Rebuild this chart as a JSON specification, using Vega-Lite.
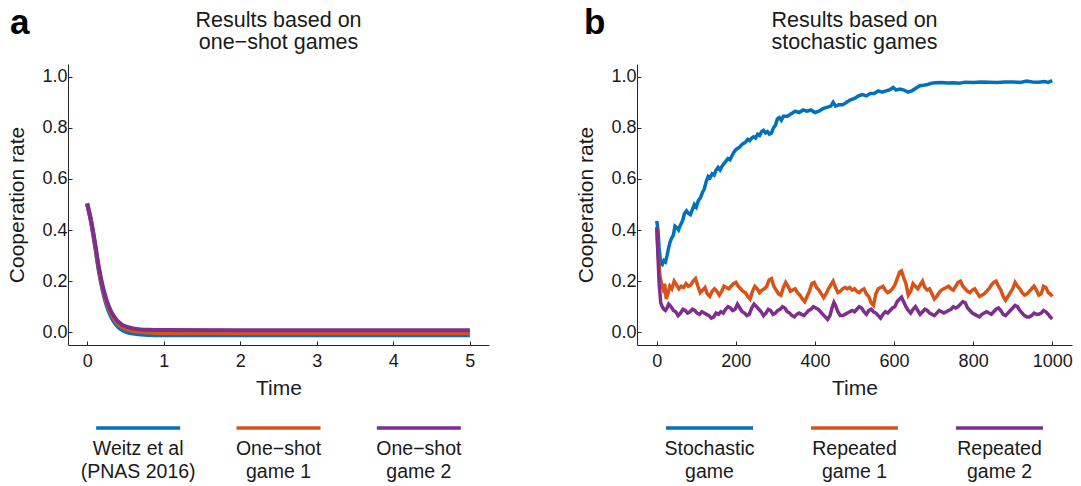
{
  "$schema": "https://vega.github.io/schema/vega-lite/v6.json",
  "background": "white",
  "padding": {"left": 6, "top": 5, "right": 4, "bottom": 0},
  "config": {
    "font": "Liberation Sans",
    "view": {"stroke": null},
    "axis": {
      "grid": false,
      "domainColor": "#262626",
      "domainWidth": 1,
      "tickColor": "#262626",
      "tickSize": -4,
      "labelFontSize": 18,
      "labelColor": "#1a1a1a",
      "titleFontSize": 21,
      "titleFontWeight": "normal",
      "titleColor": "#1a1a1a"
    },
    "axisX": {"labelPadding": 11, "titlePadding": 7},
    "axisY": {"labelPadding": 5, "titlePadding": 14},
    "title": {"fontWeight": "normal", "color": "#1a1a1a"}
  },
  "datasets": {
    "oneshot": [
      {"s": "A1", "t": 0, "v": 0.5}, {"s": "A1", "t": 0.05, "v": 0.432}, {"s": "A1", "t": 0.1, "v": 0.343}, {"s": "A1", "t": 0.15, "v": 0.244}, {"s": "A1", "t": 0.2, "v": 0.166}, {"s": "A1", "t": 0.25, "v": 0.109}, {"s": "A1", "t": 0.3, "v": 0.069}, {"s": "A1", "t": 0.35, "v": 0.041}, {"s": "A1", "t": 0.4, "v": 0.022}, {"s": "A1", "t": 0.45, "v": 0.01}, {"s": "A1", "t": 0.5, "v": 0.002}, {"s": "A1", "t": 0.6, "v": -0.005}, {"s": "A1", "t": 0.7, "v": -0.009}, {"s": "A1", "t": 0.8, "v": -0.011}, {"s": "A1", "t": 1, "v": -0.012}, {"s": "A1", "t": 2, "v": -0.012}, {"s": "A1", "t": 3, "v": -0.012}, {"s": "A1", "t": 4, "v": -0.012}, {"s": "A1", "t": 5, "v": -0.012},
      {"s": "A2", "t": 0, "v": 0.503}, {"s": "A2", "t": 0.05, "v": 0.437}, {"s": "A2", "t": 0.1, "v": 0.35}, {"s": "A2", "t": 0.15, "v": 0.253}, {"s": "A2", "t": 0.2, "v": 0.176}, {"s": "A2", "t": 0.25, "v": 0.12}, {"s": "A2", "t": 0.3, "v": 0.08}, {"s": "A2", "t": 0.35, "v": 0.052}, {"s": "A2", "t": 0.4, "v": 0.033}, {"s": "A2", "t": 0.45, "v": 0.021}, {"s": "A2", "t": 0.5, "v": 0.013}, {"s": "A2", "t": 0.6, "v": 0.005}, {"s": "A2", "t": 0.7, "v": 0.001}, {"s": "A2", "t": 0.8, "v": -0.001}, {"s": "A2", "t": 1, "v": -0.003}, {"s": "A2", "t": 2, "v": -0.003}, {"s": "A2", "t": 3, "v": -0.003}, {"s": "A2", "t": 4, "v": -0.003}, {"s": "A2", "t": 5, "v": -0.003},
      {"s": "A3", "t": 0, "v": 0.505}, {"s": "A3", "t": 0.05, "v": 0.44}, {"s": "A3", "t": 0.1, "v": 0.355}, {"s": "A3", "t": 0.15, "v": 0.26}, {"s": "A3", "t": 0.2, "v": 0.185}, {"s": "A3", "t": 0.25, "v": 0.13}, {"s": "A3", "t": 0.3, "v": 0.09}, {"s": "A3", "t": 0.35, "v": 0.062}, {"s": "A3", "t": 0.4, "v": 0.043}, {"s": "A3", "t": 0.45, "v": 0.031}, {"s": "A3", "t": 0.5, "v": 0.023}, {"s": "A3", "t": 0.6, "v": 0.015}, {"s": "A3", "t": 0.7, "v": 0.011}, {"s": "A3", "t": 0.8, "v": 0.0095}, {"s": "A3", "t": 1, "v": 0.0085}, {"s": "A3", "t": 2, "v": 0.008}, {"s": "A3", "t": 3, "v": 0.008}, {"s": "A3", "t": 4, "v": 0.008}, {"s": "A3", "t": 5, "v": 0.008}
    ],
    "stoch": [
      {"s": "B1", "t": 0, "v": 0.436}, {"s": "B1", "t": 3, "v": 0.4}, {"s": "B1", "t": 6, "v": 0.33}, {"s": "B1", "t": 10, "v": 0.27}, {"s": "B1", "t": 14, "v": 0.265}, {"s": "B1", "t": 18, "v": 0.28}, {"s": "B1", "t": 22, "v": 0.275}, {"s": "B1", "t": 26, "v": 0.3}, {"s": "B1", "t": 30, "v": 0.33}, {"s": "B1", "t": 34, "v": 0.355}, {"s": "B1", "t": 38, "v": 0.37}, {"s": "B1", "t": 42, "v": 0.38}, {"s": "B1", "t": 46, "v": 0.415}, {"s": "B1", "t": 50, "v": 0.41}, {"s": "B1", "t": 55, "v": 0.4}, {"s": "B1", "t": 60, "v": 0.42}, {"s": "B1", "t": 65, "v": 0.435}, {"s": "B1", "t": 70, "v": 0.465}, {"s": "B1", "t": 75, "v": 0.475}, {"s": "B1", "t": 80, "v": 0.465}, {"s": "B1", "t": 85, "v": 0.46}, {"s": "B1", "t": 90, "v": 0.48}, {"s": "B1", "t": 95, "v": 0.5}, {"s": "B1", "t": 100, "v": 0.49}, {"s": "B1", "t": 105, "v": 0.515}, {"s": "B1", "t": 110, "v": 0.525}, {"s": "B1", "t": 115, "v": 0.545}, {"s": "B1", "t": 120, "v": 0.56}, {"s": "B1", "t": 125, "v": 0.59}, {"s": "B1", "t": 130, "v": 0.61}, {"s": "B1", "t": 135, "v": 0.605}, {"s": "B1", "t": 140, "v": 0.62}, {"s": "B1", "t": 145, "v": 0.615}, {"s": "B1", "t": 150, "v": 0.635}, {"s": "B1", "t": 155, "v": 0.645}, {"s": "B1", "t": 160, "v": 0.635}, {"s": "B1", "t": 165, "v": 0.65}, {"s": "B1", "t": 170, "v": 0.66}, {"s": "B1", "t": 175, "v": 0.67}, {"s": "B1", "t": 180, "v": 0.68}, {"s": "B1", "t": 185, "v": 0.675}, {"s": "B1", "t": 190, "v": 0.69}, {"s": "B1", "t": 195, "v": 0.705}, {"s": "B1", "t": 200, "v": 0.715}, {"s": "B1", "t": 205, "v": 0.72}, {"s": "B1", "t": 210, "v": 0.725}, {"s": "B1", "t": 215, "v": 0.735}, {"s": "B1", "t": 220, "v": 0.74}, {"s": "B1", "t": 225, "v": 0.745}, {"s": "B1", "t": 230, "v": 0.755}, {"s": "B1", "t": 235, "v": 0.75}, {"s": "B1", "t": 240, "v": 0.76}, {"s": "B1", "t": 245, "v": 0.765}, {"s": "B1", "t": 250, "v": 0.76}, {"s": "B1", "t": 255, "v": 0.775}, {"s": "B1", "t": 260, "v": 0.77}, {"s": "B1", "t": 265, "v": 0.785}, {"s": "B1", "t": 270, "v": 0.79}, {"s": "B1", "t": 275, "v": 0.78}, {"s": "B1", "t": 280, "v": 0.785}, {"s": "B1", "t": 285, "v": 0.775}, {"s": "B1", "t": 290, "v": 0.78}, {"s": "B1", "t": 295, "v": 0.8}, {"s": "B1", "t": 300, "v": 0.81}, {"s": "B1", "t": 305, "v": 0.835}, {"s": "B1", "t": 310, "v": 0.84}, {"s": "B1", "t": 315, "v": 0.83}, {"s": "B1", "t": 320, "v": 0.845}, {"s": "B1", "t": 330, "v": 0.845}, {"s": "B1", "t": 340, "v": 0.855}, {"s": "B1", "t": 350, "v": 0.865}, {"s": "B1", "t": 360, "v": 0.86}, {"s": "B1", "t": 370, "v": 0.87}, {"s": "B1", "t": 380, "v": 0.865}, {"s": "B1", "t": 390, "v": 0.87}, {"s": "B1", "t": 400, "v": 0.86}, {"s": "B1", "t": 410, "v": 0.865}, {"s": "B1", "t": 420, "v": 0.875}, {"s": "B1", "t": 430, "v": 0.88}, {"s": "B1", "t": 440, "v": 0.885}, {"s": "B1", "t": 446, "v": 0.9}, {"s": "B1", "t": 452, "v": 0.885}, {"s": "B1", "t": 460, "v": 0.89}, {"s": "B1", "t": 470, "v": 0.89}, {"s": "B1", "t": 480, "v": 0.9}, {"s": "B1", "t": 490, "v": 0.91}, {"s": "B1", "t": 500, "v": 0.915}, {"s": "B1", "t": 510, "v": 0.925}, {"s": "B1", "t": 520, "v": 0.93}, {"s": "B1", "t": 530, "v": 0.925}, {"s": "B1", "t": 540, "v": 0.935}, {"s": "B1", "t": 550, "v": 0.935}, {"s": "B1", "t": 560, "v": 0.945}, {"s": "B1", "t": 570, "v": 0.94}, {"s": "B1", "t": 580, "v": 0.945}, {"s": "B1", "t": 590, "v": 0.95}, {"s": "B1", "t": 598, "v": 0.958}, {"s": "B1", "t": 605, "v": 0.948}, {"s": "B1", "t": 615, "v": 0.952}, {"s": "B1", "t": 625, "v": 0.948}, {"s": "B1", "t": 635, "v": 0.94}, {"s": "B1", "t": 645, "v": 0.945}, {"s": "B1", "t": 655, "v": 0.955}, {"s": "B1", "t": 665, "v": 0.965}, {"s": "B1", "t": 675, "v": 0.967}, {"s": "B1", "t": 685, "v": 0.97}, {"s": "B1", "t": 695, "v": 0.975}, {"s": "B1", "t": 705, "v": 0.977}, {"s": "B1", "t": 720, "v": 0.978}, {"s": "B1", "t": 735, "v": 0.976}, {"s": "B1", "t": 750, "v": 0.977}, {"s": "B1", "t": 765, "v": 0.975}, {"s": "B1", "t": 780, "v": 0.979}, {"s": "B1", "t": 800, "v": 0.978}, {"s": "B1", "t": 820, "v": 0.98}, {"s": "B1", "t": 840, "v": 0.979}, {"s": "B1", "t": 860, "v": 0.978}, {"s": "B1", "t": 880, "v": 0.98}, {"s": "B1", "t": 900, "v": 0.98}, {"s": "B1", "t": 920, "v": 0.978}, {"s": "B1", "t": 935, "v": 0.983}, {"s": "B1", "t": 950, "v": 0.98}, {"s": "B1", "t": 965, "v": 0.979}, {"s": "B1", "t": 980, "v": 0.981}, {"s": "B1", "t": 990, "v": 0.978}, {"s": "B1", "t": 1000, "v": 0.985},
      {"s": "B2", "t": 0, "v": 0.41}, {"s": "B2", "t": 4, "v": 0.3}, {"s": "B2", "t": 8, "v": 0.22}, {"s": "B2", "t": 12, "v": 0.19}, {"s": "B2", "t": 16, "v": 0.17}, {"s": "B2", "t": 20, "v": 0.19}, {"s": "B2", "t": 24, "v": 0.13}, {"s": "B2", "t": 28, "v": 0.15}, {"s": "B2", "t": 33, "v": 0.18}, {"s": "B2", "t": 38, "v": 0.17}, {"s": "B2", "t": 44, "v": 0.2}, {"s": "B2", "t": 50, "v": 0.185}, {"s": "B2", "t": 56, "v": 0.17}, {"s": "B2", "t": 62, "v": 0.18}, {"s": "B2", "t": 68, "v": 0.175}, {"s": "B2", "t": 74, "v": 0.19}, {"s": "B2", "t": 80, "v": 0.18}, {"s": "B2", "t": 86, "v": 0.185}, {"s": "B2", "t": 92, "v": 0.2}, {"s": "B2", "t": 98, "v": 0.21}, {"s": "B2", "t": 104, "v": 0.18}, {"s": "B2", "t": 110, "v": 0.155}, {"s": "B2", "t": 116, "v": 0.165}, {"s": "B2", "t": 122, "v": 0.175}, {"s": "B2", "t": 128, "v": 0.15}, {"s": "B2", "t": 134, "v": 0.14}, {"s": "B2", "t": 140, "v": 0.16}, {"s": "B2", "t": 146, "v": 0.17}, {"s": "B2", "t": 152, "v": 0.16}, {"s": "B2", "t": 158, "v": 0.145}, {"s": "B2", "t": 164, "v": 0.16}, {"s": "B2", "t": 170, "v": 0.18}, {"s": "B2", "t": 176, "v": 0.175}, {"s": "B2", "t": 182, "v": 0.17}, {"s": "B2", "t": 188, "v": 0.18}, {"s": "B2", "t": 194, "v": 0.19}, {"s": "B2", "t": 200, "v": 0.195}, {"s": "B2", "t": 206, "v": 0.18}, {"s": "B2", "t": 212, "v": 0.17}, {"s": "B2", "t": 218, "v": 0.16}, {"s": "B2", "t": 224, "v": 0.155}, {"s": "B2", "t": 230, "v": 0.14}, {"s": "B2", "t": 236, "v": 0.13}, {"s": "B2", "t": 242, "v": 0.16}, {"s": "B2", "t": 248, "v": 0.18}, {"s": "B2", "t": 254, "v": 0.17}, {"s": "B2", "t": 260, "v": 0.155}, {"s": "B2", "t": 266, "v": 0.165}, {"s": "B2", "t": 272, "v": 0.17}, {"s": "B2", "t": 278, "v": 0.18}, {"s": "B2", "t": 284, "v": 0.205}, {"s": "B2", "t": 290, "v": 0.21}, {"s": "B2", "t": 296, "v": 0.18}, {"s": "B2", "t": 302, "v": 0.165}, {"s": "B2", "t": 308, "v": 0.15}, {"s": "B2", "t": 314, "v": 0.145}, {"s": "B2", "t": 320, "v": 0.175}, {"s": "B2", "t": 326, "v": 0.195}, {"s": "B2", "t": 332, "v": 0.18}, {"s": "B2", "t": 338, "v": 0.16}, {"s": "B2", "t": 344, "v": 0.165}, {"s": "B2", "t": 350, "v": 0.17}, {"s": "B2", "t": 356, "v": 0.155}, {"s": "B2", "t": 362, "v": 0.145}, {"s": "B2", "t": 368, "v": 0.13}, {"s": "B2", "t": 374, "v": 0.12}, {"s": "B2", "t": 380, "v": 0.14}, {"s": "B2", "t": 386, "v": 0.16}, {"s": "B2", "t": 392, "v": 0.19}, {"s": "B2", "t": 398, "v": 0.195}, {"s": "B2", "t": 404, "v": 0.175}, {"s": "B2", "t": 410, "v": 0.165}, {"s": "B2", "t": 416, "v": 0.15}, {"s": "B2", "t": 422, "v": 0.135}, {"s": "B2", "t": 428, "v": 0.15}, {"s": "B2", "t": 434, "v": 0.17}, {"s": "B2", "t": 440, "v": 0.185}, {"s": "B2", "t": 446, "v": 0.2}, {"s": "B2", "t": 452, "v": 0.175}, {"s": "B2", "t": 458, "v": 0.155}, {"s": "B2", "t": 464, "v": 0.16}, {"s": "B2", "t": 470, "v": 0.17}, {"s": "B2", "t": 476, "v": 0.175}, {"s": "B2", "t": 482, "v": 0.17}, {"s": "B2", "t": 488, "v": 0.175}, {"s": "B2", "t": 494, "v": 0.165}, {"s": "B2", "t": 500, "v": 0.17}, {"s": "B2", "t": 506, "v": 0.16}, {"s": "B2", "t": 512, "v": 0.155}, {"s": "B2", "t": 518, "v": 0.165}, {"s": "B2", "t": 524, "v": 0.17}, {"s": "B2", "t": 530, "v": 0.15}, {"s": "B2", "t": 536, "v": 0.14}, {"s": "B2", "t": 542, "v": 0.115}, {"s": "B2", "t": 548, "v": 0.105}, {"s": "B2", "t": 554, "v": 0.15}, {"s": "B2", "t": 560, "v": 0.17}, {"s": "B2", "t": 566, "v": 0.175}, {"s": "B2", "t": 572, "v": 0.18}, {"s": "B2", "t": 578, "v": 0.165}, {"s": "B2", "t": 584, "v": 0.155}, {"s": "B2", "t": 590, "v": 0.16}, {"s": "B2", "t": 596, "v": 0.17}, {"s": "B2", "t": 602, "v": 0.185}, {"s": "B2", "t": 608, "v": 0.21}, {"s": "B2", "t": 614, "v": 0.235}, {"s": "B2", "t": 619, "v": 0.24}, {"s": "B2", "t": 624, "v": 0.215}, {"s": "B2", "t": 630, "v": 0.19}, {"s": "B2", "t": 636, "v": 0.145}, {"s": "B2", "t": 642, "v": 0.16}, {"s": "B2", "t": 648, "v": 0.19}, {"s": "B2", "t": 654, "v": 0.18}, {"s": "B2", "t": 660, "v": 0.17}, {"s": "B2", "t": 666, "v": 0.185}, {"s": "B2", "t": 672, "v": 0.2}, {"s": "B2", "t": 678, "v": 0.175}, {"s": "B2", "t": 684, "v": 0.165}, {"s": "B2", "t": 690, "v": 0.17}, {"s": "B2", "t": 696, "v": 0.15}, {"s": "B2", "t": 702, "v": 0.13}, {"s": "B2", "t": 708, "v": 0.14}, {"s": "B2", "t": 714, "v": 0.155}, {"s": "B2", "t": 720, "v": 0.165}, {"s": "B2", "t": 726, "v": 0.17}, {"s": "B2", "t": 732, "v": 0.175}, {"s": "B2", "t": 738, "v": 0.18}, {"s": "B2", "t": 744, "v": 0.17}, {"s": "B2", "t": 750, "v": 0.165}, {"s": "B2", "t": 756, "v": 0.18}, {"s": "B2", "t": 762, "v": 0.195}, {"s": "B2", "t": 768, "v": 0.2}, {"s": "B2", "t": 774, "v": 0.18}, {"s": "B2", "t": 780, "v": 0.17}, {"s": "B2", "t": 786, "v": 0.16}, {"s": "B2", "t": 792, "v": 0.155}, {"s": "B2", "t": 798, "v": 0.165}, {"s": "B2", "t": 804, "v": 0.17}, {"s": "B2", "t": 810, "v": 0.155}, {"s": "B2", "t": 816, "v": 0.14}, {"s": "B2", "t": 822, "v": 0.145}, {"s": "B2", "t": 828, "v": 0.15}, {"s": "B2", "t": 834, "v": 0.16}, {"s": "B2", "t": 840, "v": 0.17}, {"s": "B2", "t": 846, "v": 0.185}, {"s": "B2", "t": 852, "v": 0.195}, {"s": "B2", "t": 858, "v": 0.2}, {"s": "B2", "t": 864, "v": 0.18}, {"s": "B2", "t": 870, "v": 0.165}, {"s": "B2", "t": 876, "v": 0.14}, {"s": "B2", "t": 882, "v": 0.125}, {"s": "B2", "t": 888, "v": 0.14}, {"s": "B2", "t": 894, "v": 0.155}, {"s": "B2", "t": 900, "v": 0.17}, {"s": "B2", "t": 906, "v": 0.195}, {"s": "B2", "t": 912, "v": 0.18}, {"s": "B2", "t": 918, "v": 0.17}, {"s": "B2", "t": 924, "v": 0.155}, {"s": "B2", "t": 930, "v": 0.145}, {"s": "B2", "t": 936, "v": 0.15}, {"s": "B2", "t": 942, "v": 0.16}, {"s": "B2", "t": 948, "v": 0.17}, {"s": "B2", "t": 954, "v": 0.18}, {"s": "B2", "t": 960, "v": 0.165}, {"s": "B2", "t": 966, "v": 0.145}, {"s": "B2", "t": 972, "v": 0.15}, {"s": "B2", "t": 978, "v": 0.18}, {"s": "B2", "t": 984, "v": 0.175}, {"s": "B2", "t": 990, "v": 0.155}, {"s": "B2", "t": 995, "v": 0.15}, {"s": "B2", "t": 1000, "v": 0.14},
      {"s": "B3", "t": 0, "v": 0.41}, {"s": "B3", "t": 3, "v": 0.3}, {"s": "B3", "t": 6, "v": 0.19}, {"s": "B3", "t": 10, "v": 0.115}, {"s": "B3", "t": 14, "v": 0.1}, {"s": "B3", "t": 18, "v": 0.09}, {"s": "B3", "t": 22, "v": 0.085}, {"s": "B3", "t": 26, "v": 0.095}, {"s": "B3", "t": 30, "v": 0.11}, {"s": "B3", "t": 36, "v": 0.1}, {"s": "B3", "t": 42, "v": 0.085}, {"s": "B3", "t": 48, "v": 0.08}, {"s": "B3", "t": 54, "v": 0.065}, {"s": "B3", "t": 60, "v": 0.075}, {"s": "B3", "t": 66, "v": 0.09}, {"s": "B3", "t": 72, "v": 0.085}, {"s": "B3", "t": 78, "v": 0.075}, {"s": "B3", "t": 84, "v": 0.08}, {"s": "B3", "t": 90, "v": 0.09}, {"s": "B3", "t": 96, "v": 0.085}, {"s": "B3", "t": 102, "v": 0.075}, {"s": "B3", "t": 108, "v": 0.07}, {"s": "B3", "t": 114, "v": 0.08}, {"s": "B3", "t": 120, "v": 0.075}, {"s": "B3", "t": 126, "v": 0.07}, {"s": "B3", "t": 132, "v": 0.065}, {"s": "B3", "t": 138, "v": 0.055}, {"s": "B3", "t": 144, "v": 0.06}, {"s": "B3", "t": 150, "v": 0.075}, {"s": "B3", "t": 156, "v": 0.07}, {"s": "B3", "t": 162, "v": 0.08}, {"s": "B3", "t": 168, "v": 0.075}, {"s": "B3", "t": 174, "v": 0.09}, {"s": "B3", "t": 180, "v": 0.1}, {"s": "B3", "t": 186, "v": 0.095}, {"s": "B3", "t": 192, "v": 0.085}, {"s": "B3", "t": 198, "v": 0.09}, {"s": "B3", "t": 204, "v": 0.11}, {"s": "B3", "t": 210, "v": 0.095}, {"s": "B3", "t": 216, "v": 0.08}, {"s": "B3", "t": 222, "v": 0.075}, {"s": "B3", "t": 228, "v": 0.065}, {"s": "B3", "t": 234, "v": 0.07}, {"s": "B3", "t": 240, "v": 0.095}, {"s": "B3", "t": 246, "v": 0.11}, {"s": "B3", "t": 252, "v": 0.1}, {"s": "B3", "t": 258, "v": 0.09}, {"s": "B3", "t": 264, "v": 0.08}, {"s": "B3", "t": 270, "v": 0.065}, {"s": "B3", "t": 276, "v": 0.075}, {"s": "B3", "t": 282, "v": 0.09}, {"s": "B3", "t": 288, "v": 0.085}, {"s": "B3", "t": 294, "v": 0.07}, {"s": "B3", "t": 300, "v": 0.075}, {"s": "B3", "t": 306, "v": 0.085}, {"s": "B3", "t": 312, "v": 0.09}, {"s": "B3", "t": 318, "v": 0.1}, {"s": "B3", "t": 324, "v": 0.095}, {"s": "B3", "t": 330, "v": 0.08}, {"s": "B3", "t": 336, "v": 0.075}, {"s": "B3", "t": 342, "v": 0.065}, {"s": "B3", "t": 348, "v": 0.06}, {"s": "B3", "t": 354, "v": 0.07}, {"s": "B3", "t": 360, "v": 0.075}, {"s": "B3", "t": 366, "v": 0.07}, {"s": "B3", "t": 372, "v": 0.065}, {"s": "B3", "t": 378, "v": 0.075}, {"s": "B3", "t": 384, "v": 0.085}, {"s": "B3", "t": 390, "v": 0.09}, {"s": "B3", "t": 396, "v": 0.1}, {"s": "B3", "t": 402, "v": 0.095}, {"s": "B3", "t": 408, "v": 0.09}, {"s": "B3", "t": 414, "v": 0.08}, {"s": "B3", "t": 420, "v": 0.07}, {"s": "B3", "t": 426, "v": 0.06}, {"s": "B3", "t": 432, "v": 0.05}, {"s": "B3", "t": 438, "v": 0.065}, {"s": "B3", "t": 444, "v": 0.1}, {"s": "B3", "t": 448, "v": 0.117}, {"s": "B3", "t": 452, "v": 0.105}, {"s": "B3", "t": 458, "v": 0.08}, {"s": "B3", "t": 464, "v": 0.065}, {"s": "B3", "t": 470, "v": 0.065}, {"s": "B3", "t": 476, "v": 0.07}, {"s": "B3", "t": 482, "v": 0.075}, {"s": "B3", "t": 488, "v": 0.08}, {"s": "B3", "t": 494, "v": 0.085}, {"s": "B3", "t": 500, "v": 0.08}, {"s": "B3", "t": 506, "v": 0.09}, {"s": "B3", "t": 512, "v": 0.1}, {"s": "B3", "t": 518, "v": 0.095}, {"s": "B3", "t": 524, "v": 0.08}, {"s": "B3", "t": 530, "v": 0.07}, {"s": "B3", "t": 536, "v": 0.085}, {"s": "B3", "t": 542, "v": 0.09}, {"s": "B3", "t": 548, "v": 0.08}, {"s": "B3", "t": 554, "v": 0.075}, {"s": "B3", "t": 560, "v": 0.065}, {"s": "B3", "t": 566, "v": 0.055}, {"s": "B3", "t": 572, "v": 0.07}, {"s": "B3", "t": 578, "v": 0.08}, {"s": "B3", "t": 584, "v": 0.075}, {"s": "B3", "t": 590, "v": 0.085}, {"s": "B3", "t": 596, "v": 0.095}, {"s": "B3", "t": 602, "v": 0.1}, {"s": "B3", "t": 608, "v": 0.12}, {"s": "B3", "t": 614, "v": 0.13}, {"s": "B3", "t": 619, "v": 0.137}, {"s": "B3", "t": 624, "v": 0.12}, {"s": "B3", "t": 630, "v": 0.1}, {"s": "B3", "t": 636, "v": 0.085}, {"s": "B3", "t": 642, "v": 0.075}, {"s": "B3", "t": 648, "v": 0.09}, {"s": "B3", "t": 654, "v": 0.1}, {"s": "B3", "t": 660, "v": 0.085}, {"s": "B3", "t": 666, "v": 0.07}, {"s": "B3", "t": 672, "v": 0.08}, {"s": "B3", "t": 678, "v": 0.09}, {"s": "B3", "t": 684, "v": 0.085}, {"s": "B3", "t": 690, "v": 0.075}, {"s": "B3", "t": 696, "v": 0.07}, {"s": "B3", "t": 702, "v": 0.065}, {"s": "B3", "t": 708, "v": 0.075}, {"s": "B3", "t": 714, "v": 0.085}, {"s": "B3", "t": 720, "v": 0.08}, {"s": "B3", "t": 726, "v": 0.075}, {"s": "B3", "t": 732, "v": 0.08}, {"s": "B3", "t": 738, "v": 0.085}, {"s": "B3", "t": 744, "v": 0.09}, {"s": "B3", "t": 750, "v": 0.1}, {"s": "B3", "t": 756, "v": 0.095}, {"s": "B3", "t": 762, "v": 0.1}, {"s": "B3", "t": 768, "v": 0.11}, {"s": "B3", "t": 774, "v": 0.12}, {"s": "B3", "t": 780, "v": 0.115}, {"s": "B3", "t": 786, "v": 0.095}, {"s": "B3", "t": 792, "v": 0.085}, {"s": "B3", "t": 798, "v": 0.075}, {"s": "B3", "t": 804, "v": 0.07}, {"s": "B3", "t": 810, "v": 0.065}, {"s": "B3", "t": 816, "v": 0.06}, {"s": "B3", "t": 822, "v": 0.07}, {"s": "B3", "t": 828, "v": 0.075}, {"s": "B3", "t": 834, "v": 0.08}, {"s": "B3", "t": 840, "v": 0.075}, {"s": "B3", "t": 846, "v": 0.07}, {"s": "B3", "t": 852, "v": 0.08}, {"s": "B3", "t": 858, "v": 0.09}, {"s": "B3", "t": 864, "v": 0.095}, {"s": "B3", "t": 870, "v": 0.085}, {"s": "B3", "t": 876, "v": 0.07}, {"s": "B3", "t": 882, "v": 0.065}, {"s": "B3", "t": 888, "v": 0.075}, {"s": "B3", "t": 894, "v": 0.085}, {"s": "B3", "t": 900, "v": 0.095}, {"s": "B3", "t": 906, "v": 0.105}, {"s": "B3", "t": 912, "v": 0.1}, {"s": "B3", "t": 918, "v": 0.085}, {"s": "B3", "t": 924, "v": 0.075}, {"s": "B3", "t": 930, "v": 0.065}, {"s": "B3", "t": 936, "v": 0.06}, {"s": "B3", "t": 942, "v": 0.06}, {"s": "B3", "t": 948, "v": 0.065}, {"s": "B3", "t": 954, "v": 0.075}, {"s": "B3", "t": 960, "v": 0.07}, {"s": "B3", "t": 966, "v": 0.07}, {"s": "B3", "t": 972, "v": 0.075}, {"s": "B3", "t": 978, "v": 0.085}, {"s": "B3", "t": 984, "v": 0.08}, {"s": "B3", "t": 990, "v": 0.07}, {"s": "B3", "t": 995, "v": 0.06}, {"s": "B3", "t": 1000, "v": 0.052}
    ],
    "legA": [
      {"s": "A1", "label": "Weitz et al\n(PNAS 2016)"},
      {"s": "A2", "label": "One−shot\ngame 1"},
      {"s": "A3", "label": "One−shot\ngame 2"}
    ],
    "legB": [
      {"s": "B1", "label": "Stochastic\ngame"},
      {"s": "B2", "label": "Repeated\ngame 1"},
      {"s": "B3", "label": "Repeated\ngame 2"}
    ]
  },
  "hconcat": [
    {
      "title": {"text": "a", "anchor": "start", "fontSize": 35, "fontWeight": "bold", "color": "#000", "offset": -31, "dx": 3},
      "spacing": 10,
      "vconcat": [
        {
          "width": 421,
          "height": 281,
          "title": {"text": ["Results based on", "one−shot games"], "frame": "group", "anchor": "middle", "fontSize": 21.5, "lineHeight": 22, "offset": 11},
          "data": {"name": "oneshot"},
          "mark": {"type": "line", "strokeWidth": 4, "interpolate": "monotone"},
          "encoding": {
            "x": {"field": "t", "type": "quantitative", "scale": {"domain": [-0.25, 5.25], "nice": false, "zero": false}, "axis": {"values": [0, 1, 2, 3, 4, 5], "format": "d", "title": "Time"}},
            "y": {"field": "v", "type": "quantitative", "scale": {"domain": [-0.05, 1.05], "nice": false, "zero": false}, "axis": {"values": [0, 0.2, 0.4, 0.6, 0.8, 1], "format": ".1f", "title": "Cooperation rate"}},
            "color": {"field": "s", "type": "nominal", "scale": {"domain": ["A1", "A2", "A3", "B1", "B2", "B3"], "range": ["#0072BD", "#D95319", "#7E2F8E", "#0072BD", "#D95319", "#7E2F8E"]}, "legend": null}
          }
        },
        {
          "width": 421,
          "height": 40,
          "data": {"name": "legA"},
          "layer": [
            {
              "mark": {"type": "tick", "orient": "horizontal", "size": 84, "thickness": 3.5, "opacity": 1},
              "encoding": {
                "x": {"field": "s", "type": "nominal", "scale": {"type": "point", "padding": 0.5, "domain": ["A1", "A2", "A3"]}, "axis": null},
                "color": {"field": "s", "type": "nominal", "scale": {"domain": ["A1", "A2", "A3", "B1", "B2", "B3"], "range": ["#0072BD", "#D95319", "#7E2F8E", "#0072BD", "#D95319", "#7E2F8E"]}, "legend": null}
              }
            },
            {
              "mark": {"type": "text", "baseline": "top", "dy": 12, "fontSize": 19.5, "lineBreak": "\n", "lineHeight": 23, "color": "#1a1a1a"},
              "encoding": {
                "x": {"field": "s", "type": "nominal", "axis": null},
                "text": {"field": "label"}
              }
            }
          ]
        }
      ]
    },
    {
      "title": {"text": "b", "anchor": "start", "fontSize": 35, "fontWeight": "bold", "color": "#000", "offset": -31, "dx": 8},
      "spacing": 10,
      "vconcat": [
        {
          "width": 435,
          "height": 281,
          "title": {"text": ["Results based on", "stochastic games"], "frame": "group", "anchor": "middle", "fontSize": 21.5, "lineHeight": 22, "offset": 11},
          "data": {"name": "stoch"},
          "mark": {"type": "line", "strokeWidth": 3.5},
          "encoding": {
            "x": {"field": "t", "type": "quantitative", "scale": {"domain": [-50, 1050], "nice": false, "zero": false}, "axis": {"values": [0, 200, 400, 600, 800, 1000], "format": "d", "title": "Time"}},
            "y": {"field": "v", "type": "quantitative", "scale": {"domain": [-0.05, 1.05], "nice": false, "zero": false}, "axis": {"values": [0, 0.2, 0.4, 0.6, 0.8, 1], "format": ".1f", "title": "Cooperation rate"}},
            "color": {"field": "s", "type": "nominal", "scale": {"domain": ["A1", "A2", "A3", "B1", "B2", "B3"], "range": ["#0072BD", "#D95319", "#7E2F8E", "#0072BD", "#D95319", "#7E2F8E"]}, "legend": null}
          }
        },
        {
          "width": 435,
          "height": 40,
          "data": {"name": "legB"},
          "layer": [
            {
              "mark": {"type": "tick", "orient": "horizontal", "size": 87, "thickness": 3.5, "opacity": 1},
              "encoding": {
                "x": {"field": "s", "type": "nominal", "scale": {"type": "point", "padding": 0.5, "domain": ["B1", "B2", "B3"]}, "axis": null},
                "color": {"field": "s", "type": "nominal", "scale": {"domain": ["A1", "A2", "A3", "B1", "B2", "B3"], "range": ["#0072BD", "#D95319", "#7E2F8E", "#0072BD", "#D95319", "#7E2F8E"]}, "legend": null}
              }
            },
            {
              "mark": {"type": "text", "baseline": "top", "dy": 12, "fontSize": 19.5, "lineBreak": "\n", "lineHeight": 23, "color": "#1a1a1a"},
              "encoding": {
                "x": {"field": "s", "type": "nominal", "axis": null},
                "text": {"field": "label"}
              }
            }
          ]
        }
      ]
    }
  ],
  "spacing": 86
}
